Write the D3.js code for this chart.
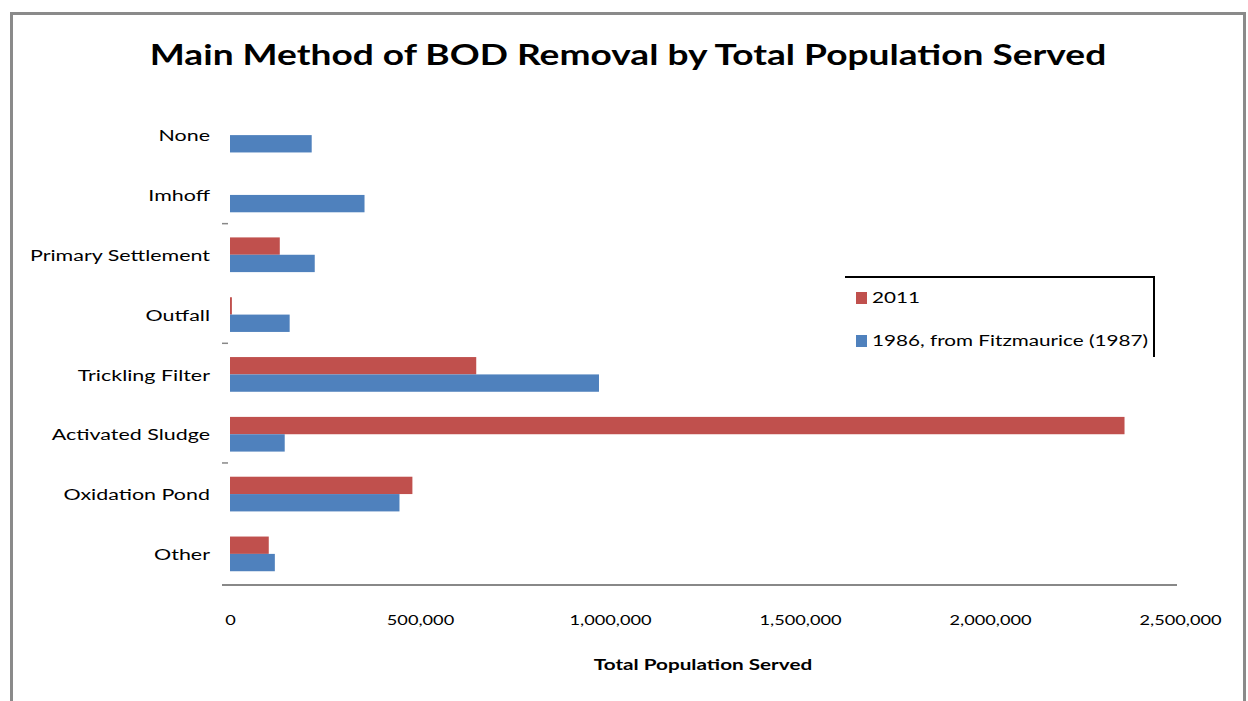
<!DOCTYPE html>
<html lang="en">
<head>
    <meta charset="UTF-8">
    <title>BOD Removal</title>
    <script src="https://d3js.org/d3.v7.min.js"></script>
    <style>
        body { margin: 0; background: #fff; }
        text { font-family: Lato, 'Open Sans', sans-serif; fill: #000; }
    </style>
</head>
<body>
<script>
    const width  = 1248;
    const height = 701;

    const categories = ["None", "Imhoff", "Primary Settlement", "Outfall",
                        "Trickling Filter", "Activated Sludge", "Oxidation Pond", "Other"];
    const seriesNames = ["2011", "1986, from Fitzmaurice (1987)"];
    const values2011 = [0, 0, 131000, 5000, 648000, 2354000, 480000, 102000];
    const values1986 = [215000, 354000, 223000, 157000, 971000, 144000, 446000, 118000];
    const xTicks = [0, 500000, 1000000, 1500000, 2000000, 2500000];
    const colors = ["#C0504D", "#4F81BD"];

    // the source picture is stretched sideways, so text is too
    const stretch = 1.38;

    const svg = d3.select("body").append("svg")
        .attr("width", width).attr("height", height);

    // outer chart border
    svg.append("rect")
        .attr("x", 11.5).attr("y", 13.5)
        .attr("width", 1233).attr("height", 720)
        .attr("fill", "none").attr("stroke", "#8a8a8a").attr("stroke-width", 3);

    svg.append("text")
        .attr("transform", "translate(628,65) scale(1.28,1)")
        .attr("text-anchor", "middle")
        .attr("font-size", 29).attr("font-weight", "bold")
        .text("Main Method of BOD Removal by Total Population Served");

    const x = d3.scaleLinear().domain([0, 2500000]).range([230, 1180]);
    const y = d3.scaleBand().domain(categories).range([104, 585])
        .paddingInner(0.42).paddingOuter(0.23);
    const ySub = d3.scaleBand().domain(seriesNames).range([0, y.bandwidth()]);

    const rows = categories.map((c, i) => ({cat: c, vals: [values2011[i], values1986[i]]}));

    const g = svg.selectAll("g.cat").data(rows).enter()
        .append("g").attr("class", "cat")
        .attr("transform", d => `translate(0,${y(d.cat)})`);

    g.selectAll("rect").data(d => d.vals.map((v, k) => ({v, k}))).enter()
        .append("rect")
        .attr("x", x(0))
        .attr("y", d => ySub(seriesNames[d.k]))
        .attr("width", d => x(d.v) - x(0))
        .attr("height", ySub.bandwidth())
        .attr("fill", d => colors[d.k]);

    // category labels
    svg.selectAll("text.cat").data(categories).enter()
        .append("text").attr("class", "cat")
        .attr("transform", d => `translate(210,${y(d) + y.bandwidth() / 2 + 1}) scale(1.43,1)`)
        .attr("dy", "0.35em")
        .attr("text-anchor", "end")
        .attr("font-size", 15)
        .text(d => d);

    // category ticks every two bands
    const step = y.step();
    svg.selectAll("line.ctick").data([2, 4, 6]).enter()
        .append("line").attr("class", "ctick")
        .attr("x1", 222).attr("x2", 228)
        .attr("y1", d => 104 + d * step).attr("y2", d => 104 + d * step)
        .attr("stroke", "#888").attr("stroke-width", 1.5);

    // value axis
    const xAxis = d3.axisBottom(x).tickValues(xTicks)
        .tickSize(0).tickPadding(30)
        .tickFormat(d3.format(","));
    const ax = svg.append("g").attr("transform", "translate(0,585)").call(xAxis);
    ax.select(".domain").remove();
    ax.selectAll("text")
        .attr("font-size", 14).attr("font-family", "Lato, sans-serif").attr("fill", "#000")
        .attr("transform", "scale(1.3,1)");
    svg.append("line")
        .attr("x1", 222).attr("x2", 1177).attr("y1", 585).attr("y2", 585)
        .attr("stroke", "#888").attr("stroke-width", 2);

    svg.append("text")
        .attr("transform", `translate(703,670) scale(${stretch},1)`)
        .attr("text-anchor", "middle")
        .attr("font-size", 15).attr("font-weight", "bold")
        .text("Total Population Served");

    // legend
    const legend = svg.append("g");
    legend.append("path")
        .attr("d", "M845,277H1154V357")
        .attr("fill", "none").attr("stroke", "#000").attr("stroke-width", 2);
    const li = legend.selectAll("g").data(seriesNames).enter()
        .append("g")
        .attr("transform", (d, i) => `translate(856,${298 + i * 43})`);
    li.append("rect").attr("x", 0).attr("y", -6)
        .attr("width", 11).attr("height", 12)
        .attr("fill", (d, i) => colors[i]);
    li.append("text")
        .attr("transform", `translate(16,0) scale(${stretch},1)`)
        .attr("dy", "0.35em")
        .attr("font-size", 15)
        .text(d => d);
</script>
</body>
</html>
